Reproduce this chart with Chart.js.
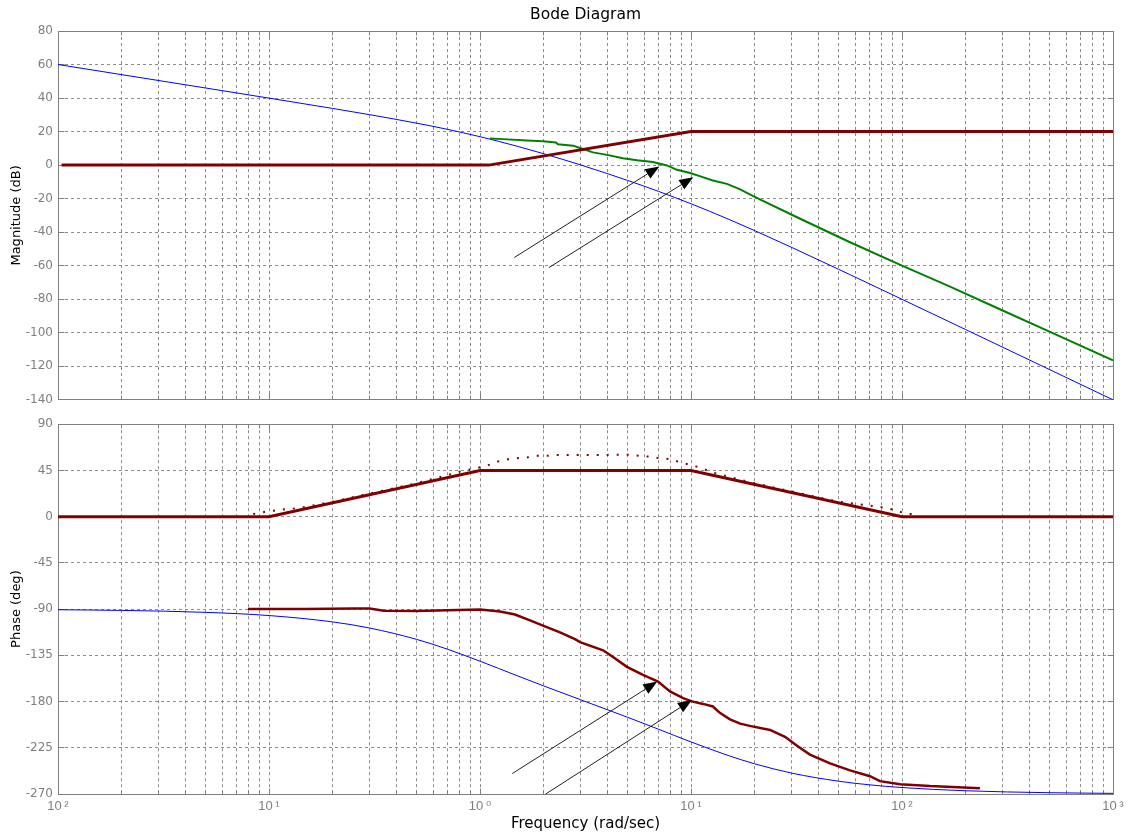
<!DOCTYPE html>
<html>
<head>
<meta charset="utf-8">
<title>Bode Diagram</title>
<script src="https://cdn.jsdelivr.net/npm/chart.js@4.4.1/dist/chart.umd.min.js"></script>
<style>
  html, body { margin: 0; padding: 0; background: #ffffff; }
  #page { position: relative; width: 1129px; height: 837px; overflow: hidden; }
  .pane { position: absolute; left: 0; width: 1129px; }
  #magPane { top: 0; height: 412px; }
  #phasePane { top: 412px; height: 425px; }
</style>
</head>
<body>
<div id="page">
  <div class="pane" id="magPane"><canvas id="magChart"></canvas></div>
  <div class="pane" id="phasePane"><canvas id="phaseChart"></canvas></div>
</div>
<script>
// ---------- frequency axis ----------
const decadeExponents = [-2, -1, 0, 1, 2, 3];
const decadeLabels = ['10\u2009²', '10\u2009¹', '10\u2009⁰', '10\u2009¹', '10\u2009²', '10\u2009³'];
const gridMultipliers = [1, 2, 3, 4, 5, 6, 7, 8, 9];

// ---------- magnitude axis ----------
const magRange = [-140, 80];
const magStep = 20;

// ---------- phase axis ----------
const phaseRange = [-270, 90];
const phaseStep = 45;

// ---------- plant (blue) ----------
const plantFreq  = [0.01, 0.02, 0.05, 0.1, 0.2, 0.3, 0.5, 0.7, 1, 1.5, 2, 3, 5, 7, 10, 15, 20, 30, 50, 70, 100, 200, 500, 1000];
const plantMag   = [60.0, 53.98, 46.01, 39.96, 33.81, 30.08, 25.04, 21.35, 16.95, 11.26, 6.82, 0.09, -9.10, -15.63, -23.05, -32.17, -39.04, -49.09, -62.11, -70.80, -80.04, -98.07, -121.94, -140.0];
const plantPhase = [-90.63, -91.26, -93.15, -96.28, -102.46, -108.42, -119.43, -128.99, -140.71, -154.84, -164.74, -178.27, -195.26, -206.86, -219.29, -232.50, -240.57, -249.66, -257.54, -261.05, -263.72, -266.85, -268.74, -269.37];

// ---------- lead network, straight-line asymptotes (dark red) ----------
const leadMagFreq   = [0.0104, 1.1, 10, 1000];
const leadMag       = [0, 0, 20, 20];
const leadPhaseFreq = [0.01, 0.1, 1, 10, 100, 1000];
const leadPhase     = [0, 0, 45, 45, 0, 0];

// ---------- lead network, dotted phase curve ----------
const leadDotFreq  = [0.0842, 0.0897, 0.0968, 0.1056, 0.1136, 0.1402, 0.2, 0.3, 0.5, 0.753, 0.813, 0.877, 0.957, 1.022, 1.124, 1.221, 1.338, 1.449, 1.665, 1.857, 2.09, 2.27, 2.6, 3.0, 3.4, 3.75, 4.13, 4.52, 5.27, 5.67, 6.44, 7.13, 7.87, 8.61, 9.54, 10.64, 11.27, 12.4, 13.24, 20, 30, 50, 75.3, 86.1, 94.4, 105.3, 114];
const leadDotPhase = [2.6, 3.6, 4.9, 5.8, 6.8, 8.4, 14.5, 22.5, 32.5, 42, 44.2, 45.6, 46.8, 48.7, 50.9, 53.8, 55.7, 56.7, 57.6, 59.3, 59.3, 60, 60, 60, 60, 60, 60.2, 60.2, 60.2, 59.3, 58.3, 56.7, 56.1, 53.8, 51.3, 48.7, 47.1, 43.6, 42, 32.5, 24.5, 14.5, 10, 8.1, 5.8, 2.6, 2.6];

// ---------- compensated loop ----------
const compMagFreq = [1.115, 1.285, 1.67, 1.99, 2.29, 2.34, 2.76, 3.08, 3.43, 4.0, 4.76, 5.55, 6.6, 7.7, 8.58, 9.9, 11.0, 12.7, 14.8, 17.1, 19.0, 21.2, 32.9, 56.7, 100, 168.9, 291, 503, 1000];
const compMag     = [15.9, 15.5, 14.7, 14.3, 13.5, 12.4, 11.6, 9.6, 7.6, 6.1, 4.1, 2.9, 1.8, -0.2, -2.8, -4.7, -6.6, -9.2, -11.2, -14.5, -17.5, -20.5, -32, -46, -60, -72.5, -86, -99.5, -116.5];
const compPhaseFreq = [0.0795, 0.15, 0.25, 0.3, 0.35, 0.5, 0.7, 1.0, 1.244, 1.465, 1.726, 2.03, 2.394, 2.82, 2.978, 3.83, 4.27, 4.97, 5.92, 6.98, 7.95, 9.17, 10.1, 11.4, 12.7, 13.7, 15.3, 17.1, 19.0, 23.7, 27.9, 31.8, 36.6, 45.6, 56.7, 70.5, 78.6, 97.8, 135.7, 234];
const compPhase     = [-90, -90, -89.3, -89.5, -91.5, -91.8, -91.2, -90.5, -92.4, -95.3, -101, -106.8, -112.6, -119.3, -122.2, -130.1, -136.6, -146.2, -154.1, -160.6, -170.2, -176.6, -179.8, -182.3, -184.8, -191, -197.3, -201.5, -203.7, -207.6, -214.3, -223, -231.6, -240.2, -247, -252.7, -257.5, -260.4, -262.3, -264.3];

// ---------- pointer arrows: [startFreq, startValue, tipFreq, tipValue] ----------
const magArrows   = [[1.454, -55.1, 7.08, -0.8], [2.117, -61.2, 10.25, -7.2]];
const phaseArrows = [[1.422, -250.1, 6.92, -160.6], [2.048, -270, 10.1, -178.5]];

// ---------- styling ----------
const BLUE = '#0000ff';
const DARK_RED = '#800000';
const GREEN = '#008000';
const GRID = '#8c8c8c';
const FRAME = '#808080';
const TICK_TEXT = '#7f7f7f';

const freqTicks = [];
decadeExponents.forEach(e => {
  if (e === decadeExponents[decadeExponents.length - 1]) { freqTicks.push(Math.pow(10, e)); return; }
  gridMultipliers.forEach(m => freqTicks.push(Number((m * Math.pow(10, e)).toPrecision(6))));
});

function decadeIndex(v) {
  const l = Math.log10(v);
  return decadeExponents.findIndex(e => Math.abs(l - e) < 1e-6);
}
function pairs(xs, ys) { return xs.map((x, i) => ({ x: x, y: ys[i] })); }
const align = p => Math.round(p - 0.5) + 0.5;

// Box around the plot area plus short inward tick marks on all four sides
const axesBox = {
  id: 'axesBox',
  beforeDatasetsDraw(chart) {
    const { ctx, chartArea: a, scales: { x, y } } = chart;
    const L = align(a.left), R = align(a.right), T = align(a.top), B = align(a.bottom);
    ctx.save();
    ctx.setLineDash([]);
    ctx.strokeStyle = FRAME;
    ctx.lineWidth = 1;
    ctx.beginPath();
    x.ticks.forEach(t => {
      const px = align(x.getPixelForValue(t.value));
      const len = decadeIndex(t.value) >= 0 ? 6 : 4;
      ctx.moveTo(px, T); ctx.lineTo(px, T + len);
      ctx.moveTo(px, B); ctx.lineTo(px, B - len);
    });
    y.ticks.forEach(t => {
      const py = align(y.getPixelForValue(t.value));
      ctx.moveTo(L, py); ctx.lineTo(L + 6, py);
      ctx.moveTo(R, py); ctx.lineTo(R - 6, py);
    });
    ctx.stroke();
    ctx.strokeRect(L, T, R - L, B - T);
    ctx.restore();
  }
};

// Thin black arrows with filled heads, placed in data coordinates
function arrowPlugin(items) {
  return {
    id: 'pointerArrows',
    afterDatasetsDraw(chart) {
      const { ctx, scales: { x, y } } = chart;
      items.forEach(([f0, v0, f1, v1]) => {
        const x0 = x.getPixelForValue(f0), y0 = y.getPixelForValue(v0);
        const x1 = x.getPixelForValue(f1), y1 = y.getPixelForValue(v1);
        const ang = Math.atan2(y1 - y0, x1 - x0);
        const len = 14, half = 5.5;
        const bx = x1 - len * Math.cos(ang), by = y1 - len * Math.sin(ang);
        ctx.save();
        ctx.strokeStyle = '#202020';
        ctx.lineWidth = 1;
        ctx.beginPath(); ctx.moveTo(x0, y0); ctx.lineTo(bx, by); ctx.stroke();
        ctx.fillStyle = '#000000';
        ctx.beginPath();
        ctx.moveTo(x1, y1);
        ctx.lineTo(bx + half * Math.sin(ang), by - half * Math.cos(ang));
        ctx.lineTo(bx - half * Math.sin(ang), by + half * Math.cos(ang));
        ctx.closePath();
        ctx.fill();
        ctx.restore();
      });
    }
  };
}

function freqScale(showLabels) {
  const s = {
    type: 'logarithmic',
    min: 0.01,
    max: 1000,
    afterBuildTicks: sc => { sc.ticks = freqTicks.map(v => ({ value: v })); },
    grid: { color: GRID, lineWidth: 1, drawTicks: false },
    border: { display: true, color: FRAME, width: 1, dash: [3, 3] },
    ticks: { display: false }
  };
  if (showLabels) {
    s.ticks = {
      display: true, autoSkip: false, maxRotation: 0, minRotation: 0, padding: 5,
      color: TICK_TEXT,
      font: { family: "'Liberation Sans', 'DejaVu Sans', sans-serif", size: 13 },
      callback: v => { const i = decadeIndex(v); return i >= 0 ? decadeLabels[i] : ''; }
    };
    s.title = {
      display: true, text: 'Frequency (rad/sec)', color: '#000000',
      font: { family: "'DejaVu Sans', sans-serif", size: 15 },
      padding: { top: 0, bottom: 4 }
    };
    s.afterFit = sc => { sc.height = 43; sc.paddingLeft = 0; sc.paddingRight = 0; };
  } else {
    s.afterFit = sc => { sc.height = 0; sc.paddingLeft = 0; sc.paddingRight = 0; };
  }
  return s;
}

function valueScale(range, step, label) {
  return {
    type: 'linear',
    min: range[0],
    max: range[1],
    ticks: {
      stepSize: step, padding: 5, color: TICK_TEXT,
      font: { family: "'DejaVu Sans', sans-serif", size: 12 }
    },
    grid: { color: GRID, lineWidth: 1, drawTicks: false },
    border: { display: true, color: FRAME, width: 1, dash: [3, 3] },
    title: {
      display: true, text: label, color: '#000000',
      font: { family: "'DejaVu Sans', sans-serif", size: 13 },
      padding: { top: 9, bottom: 0 }
    },
    afterFit: sc => { sc.width = 58; }
  };
}

const baseOptions = {
  animation: false,
  responsive: true,
  maintainAspectRatio: false,
  devicePixelRatio: 1,
  events: [],
  elements: { point: { radius: 0 }, line: { tension: 0 } }
};

new Chart(document.getElementById('magChart'), {
  type: 'line',
  data: {
    datasets: [
      { data: pairs(leadMagFreq, leadMag), borderColor: DARK_RED, borderWidth: 3, pointRadius: 0 },
      { data: pairs(compMagFreq, compMag), borderColor: GREEN, borderWidth: 2, pointRadius: 0 },
      { data: pairs(plantFreq, plantMag), borderColor: BLUE, borderWidth: 1, pointRadius: 0, cubicInterpolationMode: 'monotone' }
    ]
  },
  options: Object.assign({}, baseOptions, {
    layout: { padding: { left: 0, right: 16, top: 0, bottom: 7 } },
    scales: { x: freqScale(false), y: valueScale(magRange, magStep, 'Magnitude (dB)') },
    plugins: {
      legend: { display: false },
      tooltip: { enabled: false },
      title: {
        display: true, text: 'Bode Diagram', color: '#000000', fullSize: false,
        font: { family: "'DejaVu Sans', sans-serif", size: 15.5, weight: 'normal' },
        padding: { top: 6, bottom: 6.4 }
      }
    }
  }),
  plugins: [axesBox, arrowPlugin(magArrows)]
});

new Chart(document.getElementById('phaseChart'), {
  type: 'line',
  data: {
    datasets: [
      { data: pairs(leadPhaseFreq, leadPhase), borderColor: DARK_RED, borderWidth: 3, pointRadius: 0 },
      { data: pairs(compPhaseFreq, compPhase), borderColor: DARK_RED, borderWidth: 2.5, pointRadius: 0 },
      { data: pairs(leadDotFreq, leadDotPhase), borderColor: DARK_RED, borderWidth: 2, borderDash: [2, 8], pointRadius: 0 },
      { data: pairs(plantFreq, plantPhase), borderColor: BLUE, borderWidth: 1, pointRadius: 0, cubicInterpolationMode: 'monotone' }
    ]
  },
  options: Object.assign({}, baseOptions, {
    layout: { padding: { left: 0, right: 16, top: 7, bottom: 0 } },
    scales: { x: freqScale(true), y: valueScale(phaseRange, phaseStep, 'Phase (deg)') },
    plugins: { legend: { display: false }, tooltip: { enabled: false } }
  }),
  plugins: [axesBox, arrowPlugin(phaseArrows)]
});
</script>
</body>
</html>
